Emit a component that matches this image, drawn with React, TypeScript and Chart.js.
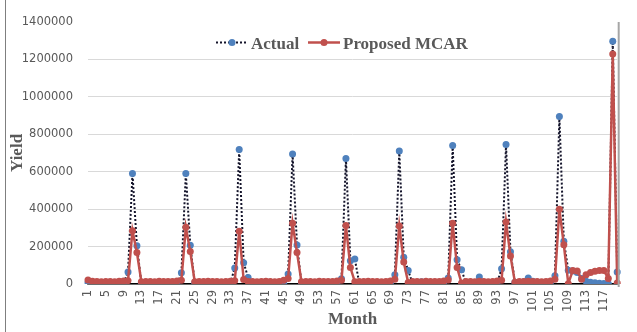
import React, { useEffect, useRef } from "react";
import { Chart, registerables } from "chart.js";

Chart.register(...registerables);

const months: string[] = Array.from({ length: 120 }, (_, i) => String(i + 1));

const actual: number[] = [
  8000, 2000, 3000, 1000, 6000, 2000, 1000, 3000, 5000, 64000, 590000, 204000,
  5000, 2000, 1000, 4000, 6000, 3000, 1000, 2000, 4000, 60000, 590000, 207000,
  6000, 3000, 2000, 8000, 4000, 2000, 1000, 3000, 5000, 86000, 718000, 114000,
  35000, 4000, 1000, 3000, 6000, 2000, 1000, 2000, 4000, 53000, 695000, 208000,
  5000, 3000, 1000, 2000, 6000, 3000, 1000, 2000, 4000, 28000, 670000, 124000,
  133000, 4000, 2000, 6000, 3000, 1000, 2000, 5000, 3000, 49000, 710000, 143000,
  72000, 3000, 1000, 12000, 6000, 2000, 4000, 3000, 8000, 32000, 740000, 129000,
  76000, 3000, 10000, 6000, 37000, 4000, 2000, 3000, 6000, 81000, 745000, 172000,
  10000, 4000, 12000, 32000, 15000, 6000, 2000, 8000, 10000, 44000, 895000, 229000,
  74000, 70000, 62000, 30000, 15000, 10000, 7000, 4000, 3000, 2000, 1296000, 64000,
];

const proposed: number[] = [
  22000, 15000, 14000, 12000, 13000, 14000, 12000, 15000, 16000, 18000, 285000, 168000,
  12000, 14000, 13000, 12000, 15000, 14000, 13000, 14000, 16000, 20000, 303000, 173000,
  12000, 14000, 13000, 15000, 14000, 13000, 12000, 14000, 15000, 18000, 282000, 24000,
  14000, 13000, 12000, 14000, 15000, 13000, 12000, 14000, 20000, 30000, 324000, 168000,
  12000, 14000, 13000, 12000, 15000, 14000, 13000, 14000, 16000, 20000, 313000, 88000,
  12000, 14000, 13000, 15000, 14000, 13000, 12000, 14000, 16000, 25000, 310000, 117000,
  8000, 14000, 13000, 12000, 15000, 14000, 13000, 14000, 16000, 22000, 324000, 88000,
  5000, 13000, 14000, 12000, 15000, 13000, 12000, 14000, 16000, 20000, 331000, 150000,
  10000, 14000, 13000, 15000, 14000, 13000, 12000, 14000, 16000, 25000, 399000, 209000,
  2000, 72000, 70000, 25000, 50000, 62000, 68000, 72000, 72000, 30000, 1229000, 5000,
];

const yTicks: number[] = [0, 200000, 400000, 600000, 800000, 1000000, 1200000, 1400000];

const legendLabels: string[] = ["Actual", "Proposed MCAR"];

const GREY_TEXT = "#595959";
const BLUE = "#4f81bd";
const RED = "#c0504d";
const DOT = "#14142b";

const framePlugin = {
  id: "frameAndLegend",
  afterDraw(chart: any) {
    const { ctx, chartArea } = chart;
    ctx.save();
    // chart frame lines
    ctx.strokeStyle = "#7f7f7f";
    ctx.lineWidth = 1;
    ctx.beginPath();
    ctx.moveTo(5.5, 0);
    ctx.lineTo(5.5, 332);
    ctx.stroke();
    ctx.strokeStyle = "#a6a6a6";
    ctx.lineWidth = 2;
    ctx.beginPath();
    ctx.moveTo(chartArea.right + 1.5, chartArea.top);
    ctx.lineTo(chartArea.right + 1.5, chartArea.bottom + 3);
    ctx.stroke();

    // legend
    const y = 42.5;
    ctx.font = 'bold 17px "Liberation Serif"';
    ctx.textAlign = "left";
    ctx.textBaseline = "alphabetic";
    // Actual
    ctx.strokeStyle = DOT;
    ctx.lineWidth = 2;
    ctx.setLineDash([2, 2]);
    ctx.beginPath();
    ctx.moveTo(216, y);
    ctx.lineTo(247, y);
    ctx.stroke();
    ctx.setLineDash([]);
    ctx.fillStyle = BLUE;
    ctx.beginPath();
    ctx.arc(232, y, 3.5, 0, Math.PI * 2);
    ctx.fill();
    ctx.fillStyle = GREY_TEXT;
    ctx.fillText(legendLabels[0], 251, 48.5);
    // Proposed
    ctx.strokeStyle = RED;
    ctx.lineWidth = 2.5;
    ctx.beginPath();
    ctx.moveTo(308, y);
    ctx.lineTo(340, y);
    ctx.stroke();
    ctx.fillStyle = RED;
    ctx.beginPath();
    ctx.arc(324, y, 3.5, 0, Math.PI * 2);
    ctx.fill();
    ctx.fillStyle = GREY_TEXT;
    ctx.fillText(legendLabels[1], 343, 48.5);
    ctx.restore();
  },
};

export default function App() {
  const ref = useRef<HTMLCanvasElement | null>(null);

  useEffect(() => {
    if (!ref.current) return;
    const chart = new Chart(ref.current, {
      type: "line",
      data: {
        labels: months,
        datasets: [
          {
            label: legendLabels[1],
            data: proposed,
            borderColor: RED,
            backgroundColor: RED,
            borderWidth: 2.5,
            pointRadius: 3.5,
            pointBorderWidth: 0,
            pointBackgroundColor: RED,
            tension: 0,
            order: 0,
          },
          {
            label: legendLabels[0],
            data: actual,
            borderColor: DOT,
            backgroundColor: BLUE,
            borderWidth: 2,
            borderDash: [2, 2],
            pointRadius: 3.5,
            pointBorderWidth: 0,
            pointBackgroundColor: BLUE,
            tension: 0,
            order: 1,
          },
        ],
      },
      options: {
        animation: false,
        responsive: false,
        layout: { padding: { top: 21, right: 5, left: 0, bottom: 0 } },
        plugins: {
          legend: { display: false },
          tooltip: { enabled: false },
        },
        scales: {
          x: {
            type: "category",
            offset: false,
            grid: { display: false, drawTicks: false },
            border: { display: true, color: "#000000", width: 1.5 },
            ticks: {
              autoSkip: false,
              maxRotation: 90,
              minRotation: 90,
              padding: 6,
              color: GREY_TEXT,
              font: { family: '"DejaVu Sans"', size: 11.5 },
              callback: (_v: any, i: number) => (i % 4 === 0 ? months[i] : ""),
            },
            title: {
              display: true,
              text: "Month",
              color: GREY_TEXT,
              font: { family: '"Liberation Serif"', size: 17, weight: "bold" },
              padding: { top: 0, bottom: 2 },
            },
            afterFit: (s: any) => {
              s.height = 48;
            },
          },
          y: {
            min: 0,
            max: 1400000,
            afterBuildTicks: (s: any) => {
              s.ticks = yTicks.map((v) => ({ value: v }));
            },
            grid: {
              drawTicks: false,
              color: (c: any) => (c.tick && c.tick.value === 1400000 ? "rgba(0,0,0,0)" : "#d9d9d9"),
              lineWidth: 1,
            },
            border: { display: false },
            ticks: {
              padding: 15,
              color: GREY_TEXT,
              font: { family: '"DejaVu Sans"', size: 11.5 },
              callback: (v: any) => String(v),
            },
            title: {
              display: true,
              text: "Yield",
              color: GREY_TEXT,
              font: { family: '"Liberation Serif"', size: 17, weight: "bold" },
              padding: { top: 7, bottom: 0 },
            },
            afterFit: (s: any) => {
              s.width = 88;
            },
          },
        },
      },
      plugins: [framePlugin],
    });
    return () => chart.destroy();
  }, []);

  return (
    <div style={{ position: "fixed", left: 0, top: 0, width: 637, height: 332, background: "#fff" }}>
      <canvas ref={ref} width={637} height={332} style={{ display: "block" }} />
    </div>
  );
}
